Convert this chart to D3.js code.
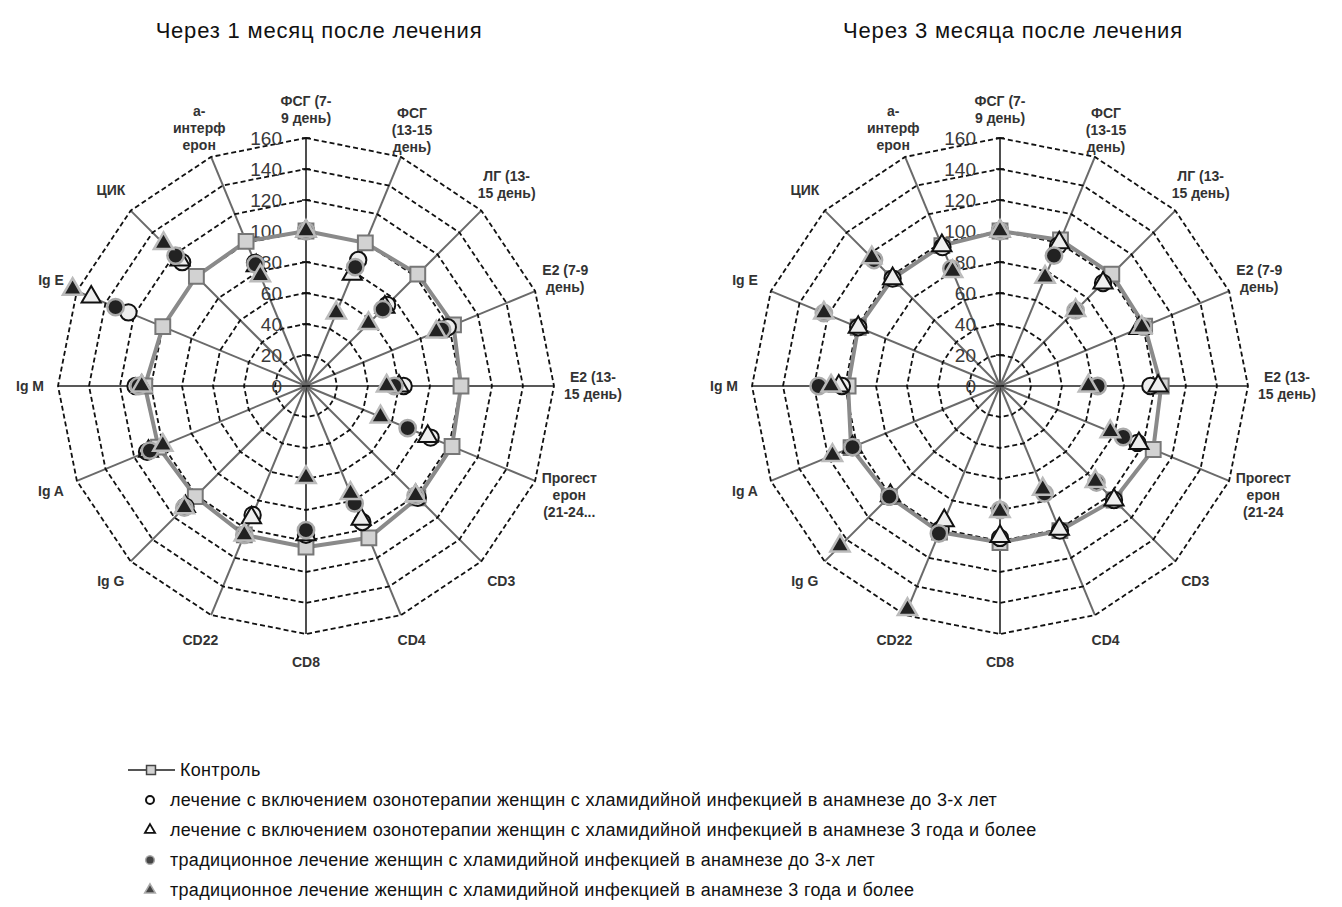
<!DOCTYPE html>
<html>
<head>
<meta charset="utf-8">
<script src="https://cdn.jsdelivr.net/npm/d3@7"></script>
<style>
  body { margin: 0; background: #fff; }
  text { font-family: "Liberation Sans", Arial, sans-serif; }
</style>
</head>
<body>
<svg id="chart"></svg>
<script>
const width = 1342,
  height = 907;

// axis categories (same order for both charts, clockwise from the top)
const categories1 = [
  "ФСГ (7-\n9 день)", "ФСГ\n(13-15\nдень)", "ЛГ (13-\n15 день)", "E2 (7-9\nдень)",
  "E2 (13-\n15 день)", "Прогест\nерон\n(21-24...", "CD3", "CD4", "CD8", "CD22",
  "Ig G", "Ig A", "Ig M", "Ig E", "ЦИК", "а-\nинтерф\nерон"
];
const categories2 = categories1.map((c, i) => (i === 5 ? "Прогест\nерон\n(21-24" : c));

const ticks = [0, 20, 40, 60, 80, 100, 120, 140, 160];

const titles = ["Через 1 месяц после лечения", "Через 3 месяца после лечения"];

// Через 1 месяц
const control1 = [100, 100, 102, 103, 100, 102, 102, 106, 104, 104, 101, 103, 104, 100, 100, 101];
const ozoneShort1 = [100, 88, 74, 99, 63, 87, 102, 95, 96, 90, 110, 111, 110, 124, 113, 86];
const ozoneLong1 = [100, 78, 72, 93, 60, 85, 100, 93, 96, 92, 110, 110, 106, 150, 115, 84];
const tradShort1 = [100, 83, 70, 95, 57, 71, 100, 82, 93, 104, 111, 109, 108, 133, 119, 85];
const tradLong1 = [100, 51, 57, 91, 52, 52, 100, 75, 59, 104, 111, 100, 106, 163, 130, 77];

// Через 3 месяца
const control2 = [100, 102, 102, 101, 104, 107, 104, 101, 101, 102, 101, 104, 98, 99, 98, 98];
const ozoneShort2 = [100, 98, 94, 100, 97, 96, 104, 101, 98, 100, 101, 103, 102, 99, 98, 97];
const ozoneLong2 = [100, 100, 94, 97, 102, 97, 104, 100, 97, 94, 100, 103, 104, 99, 98, 98];
const tradShort2 = [100, 91, 69, 100, 63, 86, 88, 75, 80, 103, 101, 103, 117, 123, 115, 82];
const tradLong2 = [100, 76, 69, 99, 57, 77, 87, 72, 81, 156, 146, 117, 109, 123, 117, 80];

const legendLabels = [
  "Контроль",
  "лечение с включением озонотерапии женщин с хламидийной инфекцией в анамнезе до 3-х лет",
  "лечение с включением озонотерапии женщин с хламидийной инфекцией в анамнезе 3 года и более",
  "традиционное лечение женщин с хламидийной инфекцией в анамнезе до 3-х лет",
  "традиционное лечение женщин с хламидийной инфекцией в анамнезе 3 года и более"
];

// marker styles, in the same order as the legend
const styles = [
  { type: d3.symbolSquare, size: 220, fill: "#d2d2d2", stroke: "#777", sw: 2 },
  { type: d3.symbolCircle, size: 210, fill: "#eeeeee", stroke: "#111", sw: 2 },
  { type: d3.symbolTriangle, size: 160, fill: "#eeeeee", stroke: "#111", sw: 2 },
  { type: d3.symbolCircle, size: 210, fill: "#222", stroke: "#aaa", sw: 2.5 },
  { type: d3.symbolTriangle, size: 160, fill: "#222", stroke: "#bbb", sw: 2.5 }
];

const charts = [
  { cx: 306, cy: 386, title: titles[0], cats: categories1,
    series: [control1, ozoneShort1, ozoneLong1, tradShort1, tradLong1] },
  { cx: 1000, cy: 386, title: titles[1], cats: categories2,
    series: [control2, ozoneShort2, ozoneLong2, tradShort2, tradLong2] }
];

const svg = d3.select("#chart").attr("width", width).attr("height", height);

const r = d3.scaleLinear().domain([0, 160]).range([0, 248]);

charts.forEach((c) => {
  const angle = d3.scaleBand().domain(d3.range(c.cats.length)).range([0, 2 * Math.PI]);
  const g = svg.append("g").attr("transform", `translate(${c.cx},${c.cy})`);

  svg.append("text")
    .attr("x", c.cx + 13)
    .attr("y", 38)
    .attr("text-anchor", "middle")
    .attr("font-size", 22)
    .attr("letter-spacing", 0.8)
    .attr("fill", "#111")
    .text(c.title);

  // spokes
  g.selectAll("line.spoke")
    .data(c.cats.map((d, i) => i))
    .join("line")
    .attr("class", "spoke")
    .attr("x1", 0).attr("y1", 0)
    .attr("x2", (i) => d3.pointRadial(angle(i), r(160))[0])
    .attr("y2", (i) => d3.pointRadial(angle(i), r(160))[1])
    .attr("stroke", (i) => (i % 4 === 0 ? "#222" : "#6a6a6a"))
    .attr("stroke-width", (i) => (i % 4 === 0 ? 1.6 : 2));

  // dashed polygon rings
  const ring = d3.lineRadial()
    .angle((i) => angle(i))
    .curve(d3.curveLinearClosed);
  g.selectAll("path.ring")
    .data(ticks.filter((t) => t > 0))
    .join("path")
    .attr("class", "ring")
    .attr("d", (t) => ring.radius(r(t))(d3.range(c.cats.length)))
    .attr("fill", "none")
    .attr("stroke", "#111")
    .attr("stroke-width", 1.8)
    .attr("stroke-dasharray", "5,3");

  // value axis ticks and labels
  g.selectAll("line.tick")
    .data(ticks)
    .join("line")
    .attr("class", "tick")
    .attr("x1", -4).attr("x2", 4)
    .attr("y1", (t) => -r(t)).attr("y2", (t) => -r(t))
    .attr("stroke", "#111")
    .attr("stroke-width", 1.5);
  g.selectAll("text.tick")
    .data(ticks)
    .join("text")
    .attr("class", "tick")
    .attr("x", -24)
    .attr("y", (t) => -r(t))
    .attr("dy", "0.36em")
    .attr("text-anchor", "end")
    .attr("font-size", 19)
    .attr("fill", "#3a3a3a")
    .text((t) => t);

  // category labels
  const lab = g.selectAll("text.cat")
    .data(c.cats)
    .join("text")
    .attr("class", "cat")
    .attr("font-size", 14)
    .attr("font-weight", "bold")
    .attr("fill", "#333")
    .attr("text-anchor", "middle");
  lab.each(function (d, i) {
    const t = d3.select(this);
    const lines = d.split("\n");
    lines.forEach((s, k) => t.append("tspan").attr("x", 0).attr("dy", k ? 17 : 0).text(s));
    const w = this.getBBox().width;
    const a = angle(i);
    const rad = 276 + Math.abs(Math.sin(a)) * Math.max(0, w / 2 - 18);
    const [px, py] = d3.pointRadial(a, rad);
    const h = lines.length * 17;
    t.attr("transform", `translate(${px},${py - h / 2 + 13})`);
  });

  // control line
  const line = d3.lineRadial()
    .angle((d, i) => angle(i))
    .radius((d) => r(d))
    .curve(d3.curveLinearClosed);
  g.append("path")
    .attr("d", line(c.series[0]))
    .attr("fill", "none")
    .attr("stroke", "#8a8a8a")
    .attr("stroke-width", 4);

  // markers
  c.series.forEach((vals, s) => {
    const st = styles[s];
    g.selectAll(`path.m${s}`)
      .data(vals)
      .join("path")
      .attr("class", `m${s}`)
      .attr("transform", (v, i) => {
        const [x, y] = d3.pointRadial(angle(i), r(v));
        return `translate(${x},${y})`;
      })
      .attr("d", d3.symbol(st.type, st.size))
      .attr("fill", st.fill)
      .attr("stroke", st.stroke)
      .attr("stroke-width", st.sw);
  });
});

// legend
const legendY = d3.scalePoint().domain(d3.range(legendLabels.length)).range([770, 890]);
const lg = svg.append("g");
lg.append("line")
  .attr("x1", 128).attr("x2", 175)
  .attr("y1", legendY(0)).attr("y2", legendY(0))
  .attr("stroke", "#555").attr("stroke-width", 2);
const legendSym = [
  { type: d3.symbolSquare, size: 80, fill: "#d2d2d2", stroke: "#444", sw: 1.5, x: 151 },
  { type: d3.symbolCircle, size: 50, fill: "#fff", stroke: "#111", sw: 2, x: 150 },
  { type: d3.symbolTriangle, size: 45, fill: "#fff", stroke: "#111", sw: 1.8, x: 150 },
  { type: d3.symbolCircle, size: 60, fill: "#444", stroke: "#aaa", sw: 1.5, x: 150 },
  { type: d3.symbolTriangle, size: 50, fill: "#444", stroke: "#aaa", sw: 1.5, x: 150 }
];
legendLabels.forEach((label, i) => {
  const st = legendSym[i];
  lg.append("path")
    .attr("transform", `translate(${st.x},${legendY(i)})`)
    .attr("d", d3.symbol(st.type, st.size))
    .attr("fill", st.fill)
    .attr("stroke", st.stroke)
    .attr("stroke-width", st.sw);
  lg.append("text")
    .attr("x", i === 0 ? 180 : 170)
    .attr("y", legendY(i))
    .attr("dy", "0.35em")
    .attr("font-size", 18)
    .attr("letter-spacing", 0.3)
    .attr("fill", "#111")
    .text(label);
});
</script>
</body>
</html>
